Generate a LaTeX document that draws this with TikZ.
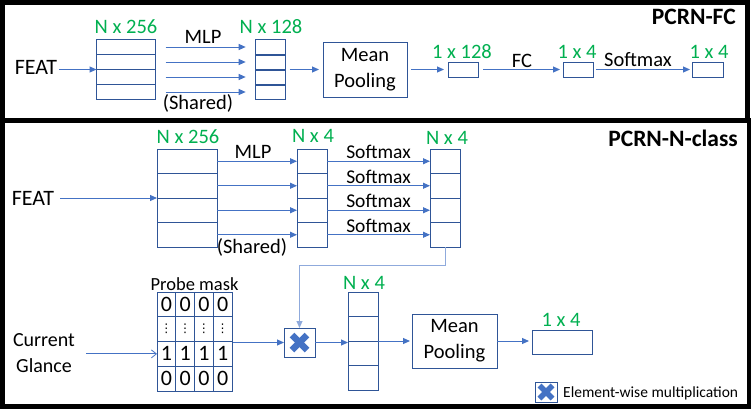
\documentclass[tikz,border=0pt]{standalone}
\usepackage{fontspec}
\setmainfont{Carlito}
\newfontfamily\dvfont{DejaVu Sans}
\usetikzlibrary{arrows.meta}
\definecolor{boxc}{HTML}{2F5597}
\definecolor{arrc}{HTML}{4472C4}
\definecolor{lightc}{HTML}{8FAADC}
\definecolor{greenc}{HTML}{00B050}
\tikzset{
  frame/.style={draw=black, line width=4.5pt},
  cellbox/.style={draw=boxc, line width=1pt, inner sep=0pt, outer sep=0pt},
  lbl/.style={font=\fontsize{20.5}{26}\selectfont, inner sep=0pt},
  dim/.style={lbl, text=greenc},
  digit/.style={font=\fontsize{22}{24}\selectfont},
  ttl/.style={font=\fontsize{23.5}{26}\selectfont\bfseries, inner sep=0pt, anchor=east},
  arr/.style={draw=arrc, line width=1pt, -{Triangle[length=7pt,width=6pt]}},
  conn/.style={draw=lightc, line width=1pt, -{Triangle[length=7pt,width=6pt]}},
  xmark/.style={draw=arrc, line width=#1},
}
\newcommand{\vdt}{{\dvfont\fontsize{12}{12}\selectfont ⋮}}
\begin{document}
\begin{tikzpicture}[x=1pt,y=-1pt]
\useasboundingbox (0,0) rectangle (752,410);
\fill[white] (0,0) rectangle (752,410);
% frames
\draw[frame] (2.5,2.5) rectangle (747.5,120.5);
\draw[frame] (2.5,120.5) rectangle (749,406.5);

%%%%%%%%%%%%%%%% Top panel: PCRN-FC
\node[ttl] (t1) at (736,17) {PCRN-FC};
\node[lbl, font=\fontsize{22}{26}\selectfont] (feat1) at (36,67) {FEAT};

\node[cellbox, minimum width=59pt, minimum height=60pt] (A) at (126,69.5) {};
\foreach \i in {1,...,4}
  \node[cellbox, minimum width=59pt, minimum height=15pt] (A\i) at (126,{32+15*\i}) {};
\node[cellbox, minimum width=30pt, minimum height=60pt] (B) at (270.7,69.5) {};
\foreach \i in {1,...,4}
  \node[cellbox, minimum width=30pt, minimum height=15pt] (B\i) at (270.7,{32+15*\i}) {};
\foreach \i in {1,2,3}
  \draw[boxc, line width=2pt] (B\i.south west) -- (B\i.south east);

\node[dim] (dA) at (126,27) {N x 256};
\node[dim] (dB) at (271,27) {N x 128};

\draw[arr] (feat1.east |- A.west) ++(2,0) -- (A.west);
\foreach \i in {1,...,4}
  \draw[arr, shorten <=10pt, shorten >=10pt] (A\i.east) -- (B\i.west);
\node[lbl] (mlp1) at (203,37) {MLP};
\node[lbl] (sh1) at (198,103) {(Shared)};

\node[cellbox, lbl, minimum width=84pt, minimum height=55pt, align=center] (MP1) at (365,69.5) {Mean\\Pooling};
\draw[arr, shorten <=3pt, shorten >=4pt] (B.east) ++(1,0) -- (MP1.west);

\node[cellbox, minimum width=30pt, minimum height=15pt] (C) at (463,69.5) {};
\node[cellbox, minimum width=30pt, minimum height=15pt] (D) at (578,69.5) {};
\node[cellbox, minimum width=31pt, minimum height=15pt] (E) at (707.5,69.5) {};
\node[dim] (dC) at (462,52) {1 x 128};
\node[dim] (dD) at (577,52) {1 x 4};
\node[dim] (dE) at (709,52) {1 x 4};

\draw[arr, shorten <=4pt, shorten >=4pt] (MP1.east) -- (C.west);
\draw[arr, shorten <=5pt, shorten >=3pt] (C.east) -- (D.west);
\draw[arr, shorten <=3pt, shorten >=2pt] (D.east) -- (E.west);
\node[lbl] (fc) at (522,61) {FC};
\node[lbl] (sm0) at (638,60) {Softmax};

%%%%%%%%%%%%%%%% Bottom panel: PCRN-N-class
\node[ttl] (t2) at (738,138) {PCRN-N-class};
\node[lbl, font=\fontsize{22}{26}\selectfont] (feat2) at (33,198) {FEAT};

\node[cellbox, minimum width=60pt, minimum height=98pt] (F) at (187,198) {};
\node[cellbox, minimum width=30pt, minimum height=98pt] (G) at (312,198) {};
\node[cellbox, minimum width=30pt, minimum height=98pt] (H) at (445,198) {};
\foreach \i in {1,...,4}{
  \node[cellbox, minimum width=60pt, minimum height=24.5pt] (F\i) at (187,{136.75+24.5*\i}) {};
  \node[cellbox, minimum width=30pt, minimum height=24.5pt] (G\i) at (312,{136.75+24.5*\i}) {};
  \node[cellbox, minimum width=30pt, minimum height=24.5pt] (H\i) at (445,{136.75+24.5*\i}) {};
  \draw[arr] (F\i.east) -- (G\i.west);
  \draw[arr] (G\i.east) -- (H\i.west);
  \path (G\i.east) -- node[lbl, above=2pt, font=\fontsize{19.5}{22}\selectfont] (sm\i) {Softmax} (H\i.west);
}
\node[dim] (dF) at (188,137) {N x 256};
\node[dim] (dG) at (313,136) {N x 4};
\node[dim] (dH) at (447,138) {N x 4};
\node[lbl] (mlp2) at (253,152) {MLP};
\node[lbl] (sh2) at (252,247) {(Shared)};

\draw[arr] (feat2.east |- F.west) ++(6,0) -- (F.west);

% probe mask
\node[cellbox, minimum width=75pt, minimum height=99pt] (P) at (194.5,341.5) {};
\foreach \r/\t in {1/0,2/{\vdt},3/1,4/0}
  \foreach \c in {1,...,4}
    \node[cellbox, digit, minimum width=18.75pt, minimum height=24.75pt] (P\r\c)
      at ({157+18.75*(\c-0.5)},{292+24.75*(\r-0.5)}) {\t};
\node[lbl, font=\fontsize{18.5}{20}\selectfont, anchor=south, inner sep=1.5pt] (pm) at (P.north) {Probe mask};

\node[lbl, font=\fontsize{20}{26}\selectfont, align=center] (CG) at (44,353) {Current\\Glance};
\draw[arrc, line width=0.8pt, -{Straight Barb[length=5pt,width=8pt]}, shorten <=11pt] (CG.east |- P31.west) -- (P31.west);

% multiplication
\node[cellbox, minimum width=31pt, minimum height=29pt] (M) at (299.5,342.5) {};
\draw[xmark=6.5pt] ([shift={(-7.5,-7.5)}]M.center) -- ([shift={(7.5,7.5)}]M.center);
\draw[xmark=6.5pt] ([shift={(-7.5,7.5)}]M.center) -- ([shift={(7.5,-7.5)}]M.center);

\draw[arr, shorten <=1pt] (P.east |- M.west) -- (M.west);
\draw[conn] (H.south) -- ++(0,18) -| (M.north);

\node[cellbox, minimum width=30pt, minimum height=98pt] (Q) at (363,341) {};
\foreach \i in {1,...,4}
  \node[cellbox, minimum width=30pt, minimum height=24.5pt] (Q\i) at (363,{279.75+24.5*\i}) {};
\node[dim] (dQ) at (364,283) {N x 4};
\draw[arr] (M.east) -- (M.east -| Q.west);

\node[cellbox, lbl, minimum width=85pt, minimum height=54pt, align=center] (MP2) at (454.5,341) {Mean\\Pooling};
\draw[arr, shorten >=2pt] (Q.east |- MP2.west) -- (MP2.west);
\node[cellbox, minimum width=60pt, minimum height=24pt] (R) at (562,342) {};
\node[dim] (dR) at (561,320) {1 x 4};
\draw[arr, shorten >=3pt] (MP2.east) -- (MP2.east -| R.west);

% legend
\node[cellbox, minimum width=22pt, minimum height=20pt] (L) at (546,392) {};
\draw[xmark=5.5pt] ([shift={(-6.5,-6.5)}]L.center) -- ([shift={(6.5,6.5)}]L.center);
\draw[xmark=5.5pt] ([shift={(-6.5,6.5)}]L.center) -- ([shift={(6.5,-6.5)}]L.center);
\node[lbl, font=\fontsize{15.5}{18}\selectfont, anchor=west] (Ltxt) at (563,393) {Element-wise multiplication};
\end{tikzpicture}
\end{document}
